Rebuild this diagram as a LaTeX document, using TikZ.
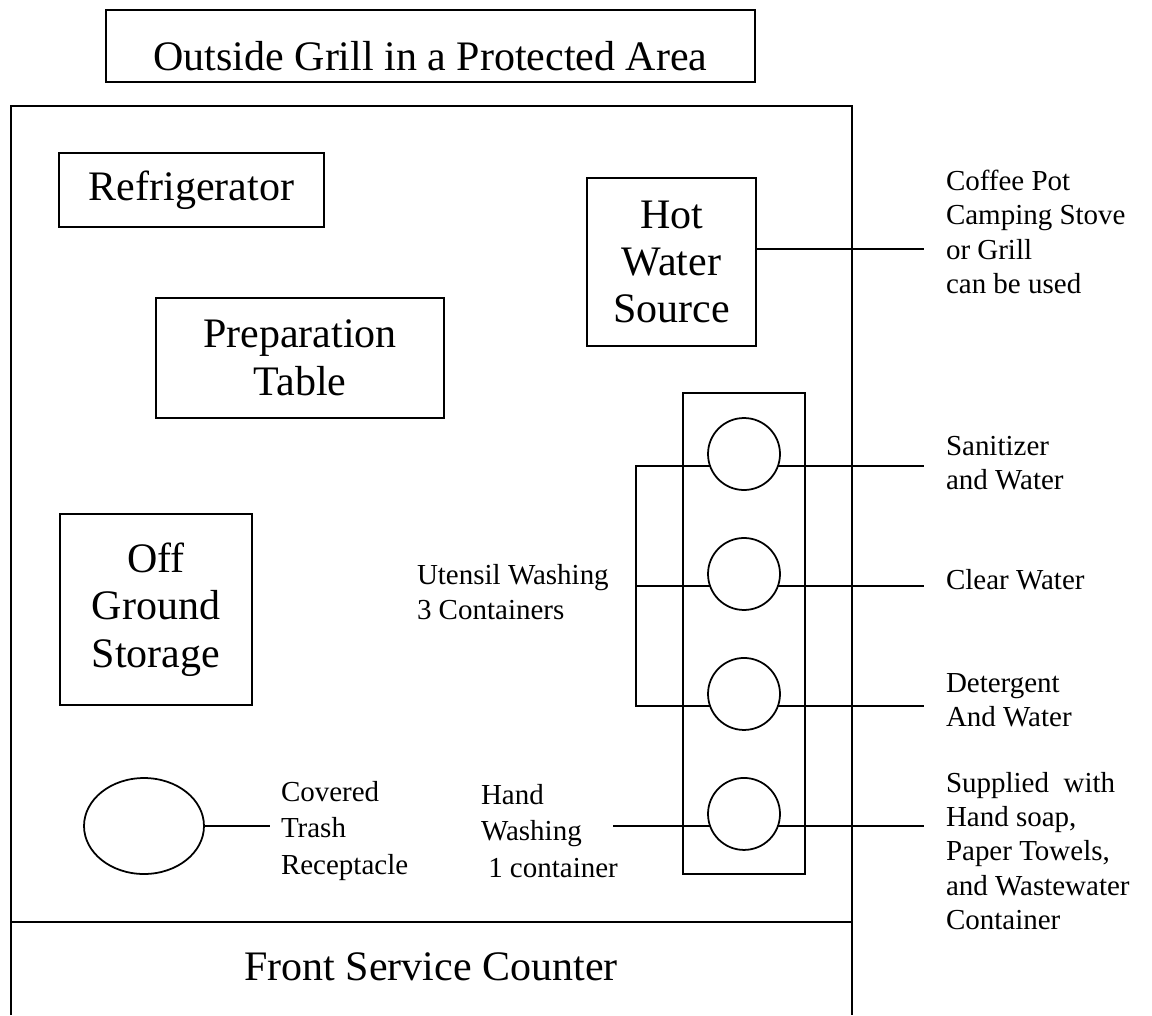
\documentclass[tikz,border=0pt]{standalone}
\usepackage{fontspec}
\setmainfont{Liberation Serif}
\usetikzlibrary{shapes.geometric, positioning}
\newcommand{\bigtxt}{\fontsize{23.9}{27}\selectfont}
\newcommand{\smalltxt}{\fontsize{16.5}{19.5}\selectfont}
\newcommand{\loosetxt}{\fontsize{16.5}{21}\selectfont}
\tikzstyle{unit} = [rectangle, draw, line width=1pt, align=center, font=\bigtxt, inner sep=0pt, outer sep=0pt]
\tikzstyle{tub} = [circle, draw, line width=1pt, minimum size=1.44cm, inner sep=0pt, outer sep=0pt]
\tikzstyle{note} = [anchor=west, align=left, font=\smalltxt, inner xsep=0.44cm, inner ysep=0pt, outer sep=0pt]
\tikzstyle{wire} = [line width=1pt]

\begin{document}
\begin{tikzpicture}[x=0.02cm, y=-0.02cm]
\useasboundingbox (0,0) rectangle (1152,1015);

% Title above the stand
\node[unit, minimum width=12.98cm, minimum height=1.44cm, text height=0.96cm, text depth=0pt] (title) at (430.5,46) {Outside Grill in a Protected Area};

% Stand outline and front counter
\draw[wire] (11,1015) -- (11,106) -- (852,106) -- (852,1015);
\draw[wire] (11,922) -- (852,922);
\node[font=\bigtxt] (counter) at (431,967) {Front Service Counter};

% Equipment inside the stand
\node[unit, minimum width=5.3cm, minimum height=1.48cm] (fridge) at (191.5,190) {Refrigerator};
\node[unit, minimum width=5.76cm, minimum height=2.4cm] (prep) at (300,358) {Preparation\\Table};
\node[unit, minimum width=3.38cm, minimum height=3.36cm] (hot) at (671.5,262) {Hot\\Water\\Source};
\node[unit, minimum width=3.84cm, minimum height=3.82cm] (storage) at (156,609.5) {Off\\Ground\\Storage};
\node[ellipse, draw, line width=1pt, minimum width=2.4cm, minimum height=1.92cm, inner sep=0pt, outer sep=0pt] (trash) at (144,826) {};

% Washing station with its containers
\node[unit, minimum width=2.44cm, minimum height=9.62cm] (station) at (744,633.5) {};
\node[tub] (sanitize) at (744,454) {};
\node[tub, below=0.96cm of sanitize] (rinse) {};
\node[tub, below=0.96cm of rinse] (wash) {};
\node[tub, below=0.96cm of wash] (hands) {};

% Labels
\node[note] (coffee) at (924,232) {Coffee Pot\\Camping Stove\\or Grill\\can be used};
\node[note] (sanit) at (924,463) {Sanitizer\\and Water};
\node[note] (clear) at (924,580) {Clear Water};
\node[note] (deterg) at (924,700) {Detergent\\And Water};
\node[note] (supplies) at (924,851) {Supplied\ \ with\\Hand soap,\\Paper Towels,\\and Wastewater\\Container};
\node[note, font=\loosetxt, inner xsep=0.22cm] (trashnote) at (270,831) {Covered\\Trash\\Receptacle};
\node[note, inner xsep=0pt] (utensil) at (417,592) {Utensil Washing\\3 Containers};
\node[note, font=\loosetxt, inner xsep=0pt] (handnote) at (481,831) {Hand\\Washing\\\ 1 container};

% Lead lines
\coordinate (bracket) at (636,600);
\coordinate (handlead) at (613,826);
\draw[wire] ([yshift=0.26cm]hot.east) -- ([yshift=0.26cm]hot.east -| coffee.west);
\foreach \t/\n in {sanitize/sanit, rinse/clear, wash/deterg, hands/supplies}
  \draw[wire] (\t.-19.5) -- (\t.-19.5 -| \n.west);
\draw[wire] (sanitize.-160.5) -- (sanitize.-160.5 -| bracket) -- (wash.-160.5 -| bracket) -- (wash.-160.5);
\draw[wire] (rinse.-160.5) -- (rinse.-160.5 -| bracket);
\draw[wire] (handlead |- hands.-160.5) -- (hands.-160.5);
\draw[wire] (trash.east) -- (trash.east -| trashnote.west);

\end{tikzpicture}
\end{document}
